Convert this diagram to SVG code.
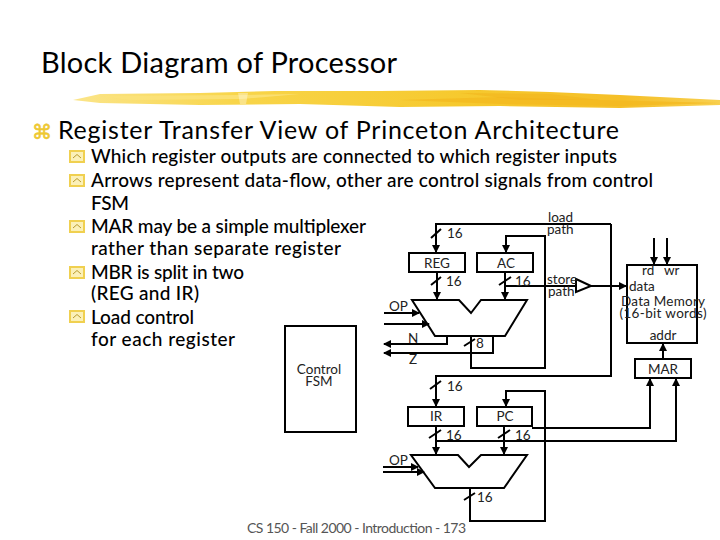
<svg xmlns="http://www.w3.org/2000/svg" width="720" height="540" viewBox="0 0 720 540">
<style>
text{font-family:"Lato","Noto Sans","Liberation Sans",sans-serif;fill:#000}
.t{font-size:29px}
.h{font-size:25px}
.b{font-size:19px;font-weight:500}
.s{font-size:13.500px;fill:#222}
.f{font-size:14px;fill:#555}
.m{text-anchor:middle}
.w{fill:none;stroke:#000;stroke-width:2}
.box{fill:#fff;stroke:#000;stroke-width:2}
.sl{stroke:#000;stroke-width:2;fill:none}
</style>
<defs>
<linearGradient id="br" x1="0" y1="0" x2="1" y2="0">
<stop offset="0" stop-color="#fbe58a"/><stop offset="0.25" stop-color="#f8d54a"/><stop offset="0.6" stop-color="#f6c92e"/><stop offset="0.85" stop-color="#f5bf28"/><stop offset="1" stop-color="#f8d050"/>
</linearGradient>
<marker id="a" markerWidth="8" markerHeight="8" refX="7" refY="4" orient="auto" markerUnits="userSpaceOnUse"><path d="M0 0L8 4L0 8Z"/></marker>
<g id="bl"><rect x="1" y="1" width="14" height="11" fill="#fbf0b8" stroke="#f0d050" stroke-width="2"/><path d="M4 8L8 4.500L12 8" fill="none" stroke="#b89a30" stroke-width="1"/></g>
</defs>
<g id="brush">
<path fill="url(#br)" d="M73 100L100 94L200 93L275 91L380 91L480 90L550 92L620 95L720 100L720 105L620 108L500 106L400 107L300 104L200 105L100 103Z"/>
<path fill="#fbe27a" opacity="0.8" d="M100 96L240 95L300 94L242 99L130 100Z"/>
<path fill="#f3b81e" opacity="0.7" d="M400 100L500 97L560 99L720 103L620 106L500 104Z"/>
<path fill="#f2b11a" opacity="0.5" d="M460 93L550 94L600 100L520 100Z"/>
<path fill="#fff" opacity="0.35" d="M238 93L248 93L246 104L240 104Z"/>
</g>
<g id="heading">
<text class="t" x="41" y="73" textLength="356">Block Diagram of Processor</text>
<text x="32" y="139" font-size="20" stroke="#eec832" stroke-width="0.600" style="font-family:'DejaVu Sans',sans-serif;fill:#eec832">⌘</text>
<text class="h" x="58" y="139" textLength="561">Register Transfer View of Princeton Architecture</text>
</g>
<g id="bullets">
<use href="#bl" x="69" y="150"/><use href="#bl" x="69" y="174"/><use href="#bl" x="69" y="220"/><use href="#bl" x="69" y="266"/><use href="#bl" x="69" y="310"/>
<text class="b" x="91" y="163" textLength="526">Which register outputs are connected to which register inputs</text>
<text class="b" x="91" y="187" textLength="562">Arrows represent data-flow, other are control signals from control</text>
<text class="b" x="91" y="210" textLength="38">FSM</text>
<text class="b" x="91" y="233" textLength="275">MAR may be a simple multiplexer</text>
<text class="b" x="91" y="255" textLength="250">rather than separate register</text>
<text class="b" x="91" y="279" textLength="153">MBR is split in two</text>
<text class="b" x="91" y="300" textLength="108">(REG and IR)</text>
<text class="b" x="91" y="324" textLength="103">Load control</text>
<text class="b" x="91" y="346" textLength="144">for each register</text>
</g>
<g id="connectors">
<path class="w" d="M611 224H436V252" marker-end="url(#a)"/>
<path class="w" d="M611 224V376H436V406" marker-end="url(#a)"/>
<path class="w" d="M471 336V368H545V236H506V252" marker-end="url(#a)"/>
<path class="w" d="M437 272V299" marker-end="url(#a)"/>
<path class="w" d="M505 272V299" marker-end="url(#a)"/>
<path class="w" d="M505 286H626" marker-end="url(#a)"/>
<path class="w" d="M384 313H419" marker-end="url(#a)"/>
<path class="w" d="M384 324H429" marker-end="url(#a)"/>
<path class="w" d="M447 336V344H384" marker-end="url(#a)"/>
<path class="w" d="M493 336V353H384" marker-end="url(#a)"/>
<path class="w" d="M654 238V264" marker-end="url(#a)"/>
<path class="w" d="M667 238V264" marker-end="url(#a)"/>
<path class="w" d="M663 359V344" marker-end="url(#a)"/>
<path class="w" d="M532 428H650V379" marker-end="url(#a)"/>
<path class="w" d="M436 455V441H676V379" marker-end="url(#a)"/>
<path class="w" d="M436 426V454" marker-end="url(#a)"/>
<path class="w" d="M504 426V454" marker-end="url(#a)"/>
<path class="w" d="M470 488V521H545V391H506V406" marker-end="url(#a)"/>
<path class="w" d="M383 467H418" marker-end="url(#a)"/>
<path class="w" d="M383 472H424" marker-end="url(#a)"/>
<path class="sl" d="M431 238L441 229M431 285L441 277M499 285L511 277M464 346L475 339M430 389L441 381M429 438L441 430M498 438L510 430M464 500L475 493"/>
</g>
<g id="control-fsm"><rect class="box" x="285" y="326" width="71" height="106"/><text class="s m" x="319" y="374">Control</text><text class="s m" x="319" y="386">FSM</text></g>
<g id="reg"><rect class="box" x="409" y="253" width="56" height="19"/><text class="s m" x="437" y="268">REG</text></g>
<g id="ac"><rect class="box" x="477" y="253" width="56" height="19"/><text class="s m" x="506" y="268">AC</text></g>
<g id="alu-top"><path class="w" d="M412 300H459L471 313L481 300H527L505 336H435Z"/></g>
<g id="buffer"><path class="box" d="M576 279L591 286L576 292Z"/></g>
<g id="memory"><rect class="box" x="627" y="265" width="70" height="78"/>
<text class="s" x="642" y="275">rd</text><text class="s" x="664" y="275">wr</text><text class="s" x="629" y="291">data</text>
<text class="s m" x="663" y="306" textLength="84">Data Memory</text><text class="s m" x="663" y="318" textLength="87">(16-bit words)</text><text class="s m" x="663" y="340">addr</text></g>
<g id="mar"><rect class="box" x="635" y="359" width="56" height="19"/><text class="s m" x="663" y="374">MAR</text></g>
<g id="ir"><rect class="box" x="408" y="407" width="56" height="19"/><text class="s m" x="436" y="421">IR</text></g>
<g id="pc"><rect class="box" x="477" y="407" width="55" height="19"/><text class="s m" x="505" y="421">PC</text></g>
<g id="alu-bottom"><path class="w" d="M411 455H458L469 467L481 455H527L504 488H435Z"/></g>
<g id="labels">
<text class="s" x="548" y="222">load</text><text class="s" x="547" y="234">path</text>
<text class="s" x="447" y="238">16</text><text class="s" x="446" y="286">16</text><text class="s" x="515" y="286">16</text>
<text class="s" x="547" y="284">store</text><text class="s" x="548" y="296">path</text>
<text class="s" x="389" y="311">OP</text><text class="s" x="408" y="343">N</text><text class="s" x="409" y="364">Z</text><text class="s" x="476" y="348">8</text>
<text class="s" x="447" y="391">16</text><text class="s" x="446" y="440">16</text><text class="s" x="515" y="440">16</text>
<text class="s" x="389" y="465">OP</text><text class="s" x="477" y="502">16</text>
<text class="f" x="247" y="533" textLength="219">CS 150 - Fall 2000 - Introduction - 173</text>
</g>
</svg>
